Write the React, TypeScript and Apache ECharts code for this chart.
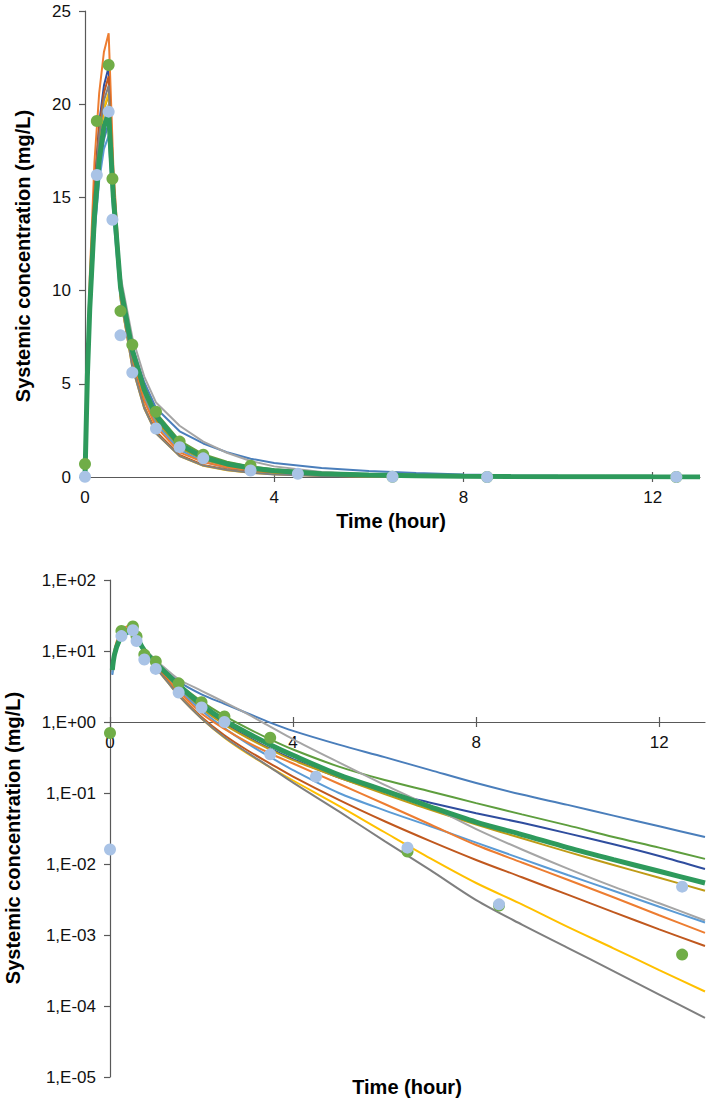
import React, { useEffect, useRef } from 'react';
import * as echarts from 'echarts';

// Simulation time grid (hours)
const times = [0, 0.05, 0.1, 0.2, 0.3, 0.4, 0.5, 0.6, 0.75, 1, 1.25, 1.5, 2, 2.5, 3, 3.5, 4, 5, 6, 7, 8, 9, 10, 11, 12, 13];

// Predicted profiles (mg/L)
const predSteelBlue = [0, 4.6, 8.3, 13.2, 16.3, 18.1, 19.0, 14.3, 10.2, 7.0, 5.1, 3.7, 2.45, 1.8, 1.33, 0.98, 0.75, 0.48, 0.32, 0.21, 0.138, 0.095, 0.068, 0.048, 0.034, 0.024];
const predGreen = [0, 5.1, 8.9, 14.0, 17.1, 18.9, 19.8, 15.0, 10.0, 6.8, 4.8, 3.45, 1.95, 1.22, 0.82, 0.57, 0.41, 0.235, 0.152, 0.105, 0.072, 0.05, 0.035, 0.024, 0.017, 0.0118];
const predNavy = [0, 5.7, 9.9, 15.6, 19.0, 21.0, 22.0, 16.0, 10.4, 6.6, 4.5, 3.1, 1.62, 0.96, 0.62, 0.42, 0.3, 0.165, 0.104, 0.073, 0.052, 0.038, 0.027, 0.019, 0.013, 0.0085];
const predGold = [0, 5.3, 9.2, 14.6, 17.8, 19.7, 20.5, 15.0, 9.8, 6.3, 4.3, 3.0, 1.55, 0.92, 0.6, 0.41, 0.29, 0.165, 0.097, 0.058, 0.036, 0.023, 0.0148, 0.0097, 0.0064, 0.0042];
const predGray = [0, 5.0, 8.9, 14.0, 17.2, 19.1, 20.0, 15.2, 10.8, 7.5, 5.4, 4.0, 2.75, 1.9, 1.3, 0.86, 0.57, 0.27, 0.13, 0.065, 0.031, 0.016, 0.0086, 0.0048, 0.0028, 0.0016];
const predLightBlue = [0, 4.8, 8.2, 13.0, 15.9, 17.6, 18.3, 14.0, 9.5, 6.2, 4.2, 2.85, 1.45, 0.82, 0.5, 0.32, 0.21, 0.1, 0.057, 0.034, 0.02, 0.0118, 0.007, 0.0042, 0.0025, 0.0015];
const predOrange = [0, 6.2, 10.7, 16.9, 20.6, 22.8, 23.8, 16.6, 10.5, 6.4, 4.1, 2.7, 1.32, 0.8, 0.52, 0.36, 0.26, 0.135, 0.07, 0.036, 0.0185, 0.0105, 0.006, 0.0034, 0.0019, 0.00107];
const predDarkOrange = [0, 5.6, 9.7, 15.3, 18.7, 20.6, 21.5, 15.5, 10.0, 6.0, 3.8, 2.45, 1.18, 0.65, 0.4, 0.26, 0.17, 0.08, 0.04, 0.021, 0.0114, 0.0065, 0.0037, 0.0021, 0.0012, 0.0007];
const predYellow = [0, 5.4, 9.3, 14.6, 17.9, 19.8, 20.6, 15.0, 9.6, 5.9, 3.7, 2.35, 1.12, 0.6, 0.36, 0.23, 0.15, 0.066, 0.028, 0.012, 0.0054, 0.0027, 0.0013, 0.00065, 0.00032, 0.00016];
const predDarkGray = [0, 5.5, 9.5, 14.9, 18.3, 20.2, 21.0, 15.2, 9.7, 5.9, 3.7, 2.35, 1.12, 0.61, 0.37, 0.23, 0.14, 0.055, 0.021, 0.0082, 0.0031, 0.0014, 0.00066, 0.00031, 0.000145, 0.000068];
const predMain = [0, 5.4, 9.0, 14.0, 17.0, 18.8, 19.5, 15.0, 10.2, 6.8, 4.7, 3.3, 1.75, 1.05, 0.7, 0.48, 0.34, 0.18, 0.108, 0.064, 0.039, 0.026, 0.017, 0.0115, 0.0079, 0.0054];

// Observed concentrations
const obsGreenTimes = [0, 0.25, 0.5, 0.58, 0.75, 1, 1.5, 2, 2.5, 3.5, 6.5, 8.5, 12.5];
const obsGreenValues = [0.7, 19.1, 22.1, 16.0, 8.9, 7.1, 3.5, 1.9, 1.2, 0.6, 0.015, 0.0026, 0.00053];
const obsBlueTimes = [0, 0.25, 0.5, 0.58, 0.75, 1, 1.5, 2, 2.5, 3.5, 4.5, 6.5, 8.5, 12.5];
const obsBlueValues = [0.016, 16.2, 19.6, 13.8, 7.6, 5.6, 2.6, 1.6, 1.0, 0.35, 0.17, 0.017, 0.0027, 0.0048];

const xTicks = [0, 4, 8, 12];

const thinLines = [
  { data: predSteelBlue, color: '#4A7EBB' },
  { data: predGreen, color: '#5E9E3E' },
  { data: predNavy, color: '#2F4D9E' },
  { data: predGold, color: '#BF9B16' },
  { data: predGray, color: '#A5A5A5' },
  { data: predLightBlue, color: '#5B9BD5' },
  { data: predOrange, color: '#ED7D31' },
  { data: predDarkOrange, color: '#C0581E' },
  { data: predYellow, color: '#FFC000' },
  { data: predDarkGray, color: '#7F7F7F' },
];

const FONT = '"Liberation Sans", Arial, sans-serif';

function expLabel(v: number) {
  const e = Math.round(Math.log10(v));
  return '1,E' + (e < 0 ? '-' : '+') + String(Math.abs(e)).padStart(2, '0');
}

export default function App() {
  const ref = useRef<HTMLDivElement>(null);
  useEffect(() => {
    document.body.style.margin = '0';
    const chart = echarts.init(ref.current!, undefined, { renderer: 'svg' });

    const mkX = (gridIndex: number, offset: number, inside: boolean) => ({
      type: 'value',
      gridIndex,
      min: 0,
      max: 13,
      interval: 4,
      position: 'bottom',
      offset,
      axisLine: { show: !inside, onZero: false, lineStyle: { color: '#595959', width: 1.2 } },
      axisTick: { show: true, inside, length: 5, customValues: xTicks, lineStyle: { color: '#595959', width: 1.2 } },
      axisLabel: { show: !inside, customValues: xTicks, fontSize: 17, color: '#111', fontFamily: FONT, margin: 12 },
      splitLine: { show: false },
    });

    const series: any[] = [];
    const addLine = (vals: number[], color: string, width: number) => {
      series.push({
        type: 'line', xAxisIndex: 0, yAxisIndex: 0, silent: true, symbol: 'none', showSymbol: false,
        data: times.map((t, i) => [t, vals[i]]),
        lineStyle: { color, width }, itemStyle: { color },
      });
      series.push({
        type: 'line', xAxisIndex: 2, yAxisIndex: 1, silent: true, symbol: 'none', showSymbol: false,
        smooth: 0.3,
        data: times.map((t, i) => [t, vals[i]]).filter((p) => p[1] > 0),
        lineStyle: { color, width }, itemStyle: { color },
      });
    };
    thinLines.forEach((l) => addLine(l.data, l.color, 2));
    addLine(predMain, '#2E9A5C', 5);

    const addDots = (ts: number[], vs: number[], color: string) => {
      const d = ts.map((t, i) => [t, vs[i]]);
      series.push({ type: 'scatter', xAxisIndex: 0, yAxisIndex: 0, symbolSize: 12, data: d, itemStyle: { color, opacity: 1 }, z: 3, silent: true });
      series.push({ type: 'scatter', xAxisIndex: 2, yAxisIndex: 1, symbolSize: 12, data: d.filter((p) => p[1] > 0), itemStyle: { color, opacity: 1 }, z: 3, silent: true });
    };
    addDots(obsGreenTimes, obsGreenValues, '#70AD47');
    addDots(obsBlueTimes, obsBlueValues, '#A9C3E6');

    const titleStyle = { fontSize: 20, fontWeight: 'bold', fontFamily: FONT, fill: '#000', align: 'center', verticalAlign: 'middle' };

    chart.setOption({
      animation: false,
      backgroundColor: '#ffffff',
      textStyle: { fontFamily: FONT },
      grid: [
        { left: 85, top: 11, width: 615, height: 466 },
        { left: 110, top: 580, width: 595, height: 497 },
      ],
      xAxis: [mkX(0, 0, false), mkX(0, 0, true), mkX(1, -355, false), mkX(1, -355, true)],
      yAxis: [
        {
          type: 'value', gridIndex: 0, min: 0, max: 25, interval: 5,
          axisLine: { show: true, lineStyle: { color: '#595959', width: 1.2 } },
          axisTick: { show: true, length: 6, lineStyle: { color: '#595959', width: 1.2 } },
          axisLabel: { fontSize: 17, color: '#111', fontFamily: FONT, margin: 14 },
          splitLine: { show: false },
        },
        {
          type: 'log', logBase: 10, gridIndex: 1, min: 0.00001, max: 100, splitNumber: 7,
          axisLine: { show: true, lineStyle: { color: '#595959', width: 1.2 } },
          axisTick: { show: true, length: 6, lineStyle: { color: '#595959', width: 1.2 } },
          axisLabel: { fontSize: 17, color: '#111', fontFamily: FONT, margin: 14, formatter: expLabel },
          splitLine: { show: false },
          minorTick: { show: false },
        },
      ],
      graphic: [
        { type: 'text', x: 23, y: 256, rotation: Math.PI / 2, style: { text: 'Systemic concentration (mg/L)', ...titleStyle } },
        { type: 'text', x: 391, y: 521, style: { text: 'Time (hour)', ...titleStyle } },
        { type: 'text', x: 13, y: 838, rotation: Math.PI / 2, style: { text: 'Systemic concentration (mg/L)', ...titleStyle } },
        { type: 'text', x: 407, y: 1087, style: { text: 'Time (hour)', ...titleStyle } },
      ],
      series,
    });
    return () => chart.dispose();
  }, []);
  return <div ref={ref} style={{ width: 709, height: 1108 }} />;
}
